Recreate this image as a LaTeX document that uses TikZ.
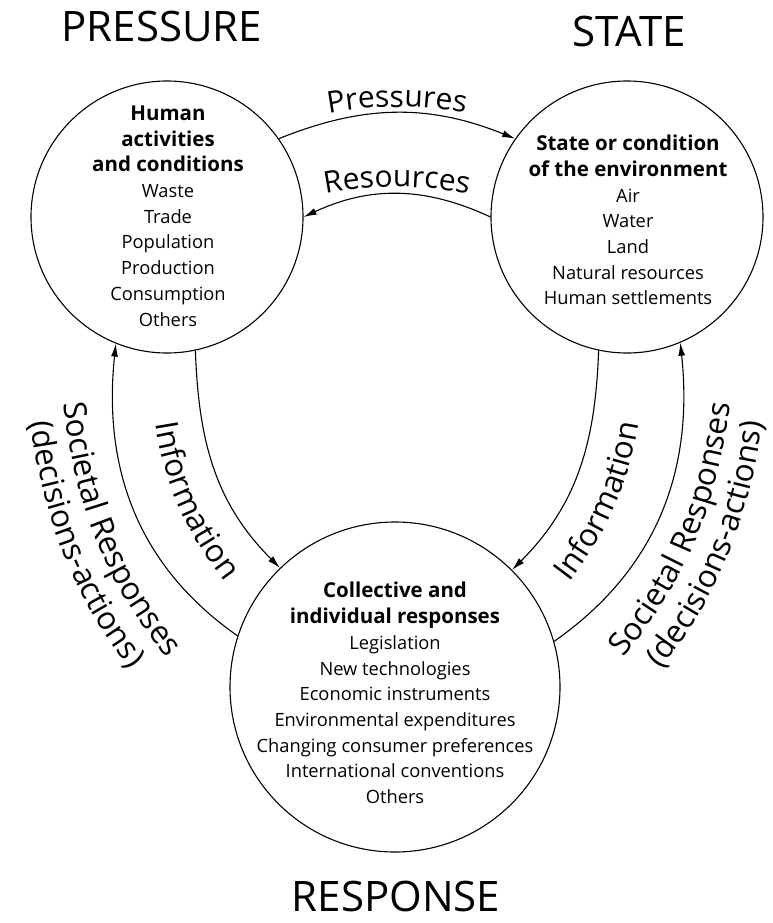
\documentclass[tikz,border=0pt]{standalone}
\usepackage{fontspec}
\setmainfont{Open Sans}
\usetikzlibrary{arrows.meta,decorations.text}
\newcommand\toplabel{\fontsize{30}{36}\selectfont}
\newcommand\sidelabel{\fontsize{31.5}{36}\selectfont}
\newcommand\hd[1]{{\fontsize{20.5}{25.7}\selectfont\bfseries #1}}
\begin{document}
\begin{tikzpicture}[x=1pt,y=1pt,
  stage/.style={circle, draw, line width=1.1pt, inner sep=0pt},
  flow/.style={line width=1.1pt, -{Latex[length=13pt,width=7pt]}},
  heading/.style={inner sep=0pt, font=\fontsize{42}{50}\selectfont},
  body/.style={align=center, inner sep=0pt, font=\fontsize{18.3}{25.7}\selectfont},
  toptext/.style={decorate, decoration={text along path, text align=center, text={|\toplabel|#1}}},
  sidetext/.style={decorate, decoration={text along path, text align=center, text={|\sidelabel|#1}}},
]
\useasboundingbox (0,0) rectangle (773,-923);

% the three stages
\node[stage, minimum size=272pt] (P) at (167,-217) {};
\node[stage, minimum size=272pt] (S) at (627,-217) {};
\node[stage, minimum size=330pt] (R) at (395,-687) {};

% contents of each stage
\node[body] (ptext) at (168,-216) {\hd{Human}\\\hd{activities}\\\hd{and conditions}\\Waste\\Trade\\Population\\Production\\Consumption\\Others};
\node[body] (stext) at (628,-220) {\hd{State or condition}\\\hd{of the environment}\\Air\\Water\\Land\\Natural resources\\Human settlements};
\node[body] (rtext) at (395,-693) {\hd{Collective and}\\\hd{individual responses}\\Legislation\\New technologies\\Economic instruments\\Environmental expenditures\\Changing consumer preferences\\International conventions\\Others};

% stage titles
\node[heading] (ptitle) at (162,-27) {PRESSURE};
\node[heading] (stitle) at (629,-32) {STATE};
\node[heading] (rtitle) at (396,-896) {RESPONSE};

% flows between the stages
\draw[flow] (P.35) to[out=22,in=158] (S.145);
\draw[flow] (S.180) to[out=155,in=25] (P.0);
\draw[flow] (P.-78) to[out=-88,in=135] (R.134);
\draw[flow] (R.162) to[out=145,in=-96] (P.-112);
\draw[flow] (S.-102) to[out=-92,in=45] (R.45);
\draw[flow] (R.16) to[out=35,in=-84] (S.-67);

% labels of the upper flows
\coordinate (pc) at (397,-487);
\coordinate (rc) at (397,-567);
\path[toptext=Pressures] ([shift={(115:380)}]pc) arc[start angle=115, end angle=65, radius=380];
\path[toptext=Resources] ([shift={(115:380)}]rc) arc[start angle=115, end angle=65, radius=380];

% labels of the left flows, read downwards
\coordinate (li1) at (150,-372);
\coordinate (li2) at (258,-622);
\coordinate (ls1) at (58,-340);
\coordinate (ls2) at (210,-705);
\coordinate (ld1) at (23,-340);
\coordinate (ld2) at (185,-731);
\path[sidetext=Information] (li1) to[out=-87,in=132] (li2);
\path[sidetext=Societal Responses] (ls1) to[out=-87,in=135] (ls2);
\path[sidetext=(decisions-actions)] (ld1) to[out=-87,in=135] (ld2);

% labels of the right flows, read upwards
\coordinate (ri1) at (536,-622);
\coordinate (ri2) at (644,-372);
\coordinate (rs1) at (580,-705);
\coordinate (rs2) at (736,-340);
\coordinate (rd1) at (606,-731);
\coordinate (rd2) at (770,-340);
\path[sidetext=Information] (ri1) to[out=48,in=-93] (ri2);
\path[sidetext=Societal Responses] (rs1) to[out=45,in=-93] (rs2);
\path[sidetext=(decisions-actions)] (rd1) to[out=45,in=-93] (rd2);
\end{tikzpicture}
\end{document}
